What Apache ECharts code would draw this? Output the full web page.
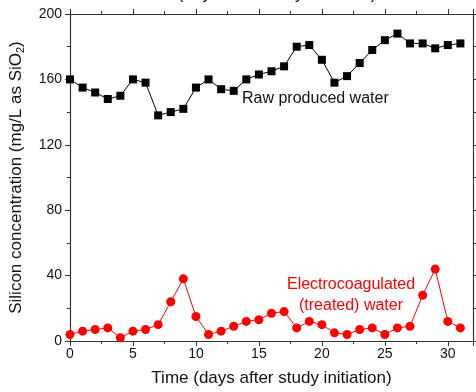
<!DOCTYPE html>
<html><head><meta charset="utf-8">
<script src="https://cdn.jsdelivr.net/npm/echarts@6/dist/echarts.min.js"></script>
<style>html,body{margin:0;padding:0;background:#fff}#c{width:476px;height:392px}</style>
</head><body><div id="c"></div>
<script>
const days = [0,1,2,3,4,5,6,7,8,9,10,11,12,13,14,15,16,17,18,19,20,21,22,23,24,25,26,27,28,29,30,31];
const rawWater = [160,155,152,148,150,160,158,138,140,142,155,160,154,153,160,163,165,168,180,181,172,158,162,170,178,184,188,182,182,179,181,182];
const treatedWater = [4,6,7,8,2,6,7,10,24,38,15,4,6,9,12,13,17,18,8,12,10,5,4,7,8,4,8,9,28,44,12,8];
const xTicks = [0,5,10,15,20,25,30];
const yTicks = [0,40,80,120,160,200];

const chart = echarts.init(document.getElementById('c'));
const font = 'Liberation Sans, Arial, sans-serif';
const axisColor = '#333';
const common = {
  axisLine:{show:true,onZero:false,lineStyle:{color:axisColor,width:1.2}},
  axisTick:{show:true,inside:false,length:5,lineStyle:{color:axisColor,width:1}},
  minorTick:{show:true,splitNumber:2,length:3,lineStyle:{color:axisColor,width:1}},
  splitLine:{show:false}
};
chart.setOption({
  animation:false,
  backgroundColor:'#fff',
  grid:{left:67,top:14,right:3,bottom:50,containLabel:false},
  xAxis:[
    Object.assign({type:'value',min:0,max:32,interval:5,position:'bottom',
      name:'Time (days after study initiation)',nameLocation:'middle',nameGap:29,
      nameTextStyle:{fontFamily:font,fontSize:17,color:'#111'},
      axisLabel:{fontFamily:font,fontSize:14,color:'#111',margin:6,
        formatter:v=>xTicks.indexOf(v)>=0?String(v):''}},common),
    Object.assign({type:'value',min:0,max:32,interval:5,position:'top',
      axisLabel:{show:false}},common)
  ],
  yAxis:[
    Object.assign({type:'value',min:0,max:200,interval:40,position:'left',
      name:'Silicon concentration (mg/L as SiO{s|2})',nameLocation:'middle',nameGap:44,
      nameTextStyle:{fontFamily:font,fontSize:17,color:'#111',
        rich:{s:{fontFamily:font,fontSize:11,color:'#111',padding:[8,0,0,0]}}},
      axisLabel:{fontFamily:font,fontSize:14,color:'#111',margin:8,
        formatter:v=>yTicks.indexOf(v)>=0?String(v):''}},common),
    Object.assign({type:'value',min:0,max:200,interval:40,position:'right',
      axisLabel:{show:false}},common)
  ],
  series:[
    {type:'line',name:'Raw produced water',data:days.map((d,i)=>[d,rawWater[i]]),
      symbol:'rect',symbolSize:8,itemStyle:{color:'#000'},lineStyle:{color:'#000',width:1}},
    {type:'line',name:'Electrocoagulated (treated) water',data:days.map((d,i)=>[d,treatedWater[i]]),
      symbol:'circle',symbolSize:9,itemStyle:{color:'#ff0000'},lineStyle:{color:'#ff0000',width:1}}
  ],
  graphic:[
    {type:'text',x:242,y:91,style:{text:'Raw produced water',fontFamily:font,fontSize:16,fill:'#111'}},
    {type:'text',x:351,y:274,style:{text:'Electrocoagulated\n(treated) water',fontFamily:font,fontSize:16,lineHeight:21,fill:'#ff0000',align:'center'}},
    {type:'text',x:136,y:-14,style:{text:'Time (days after study initiation)',fontFamily:font,fontSize:17,fill:'#111'}}
  ]
});
</script></body></html>
